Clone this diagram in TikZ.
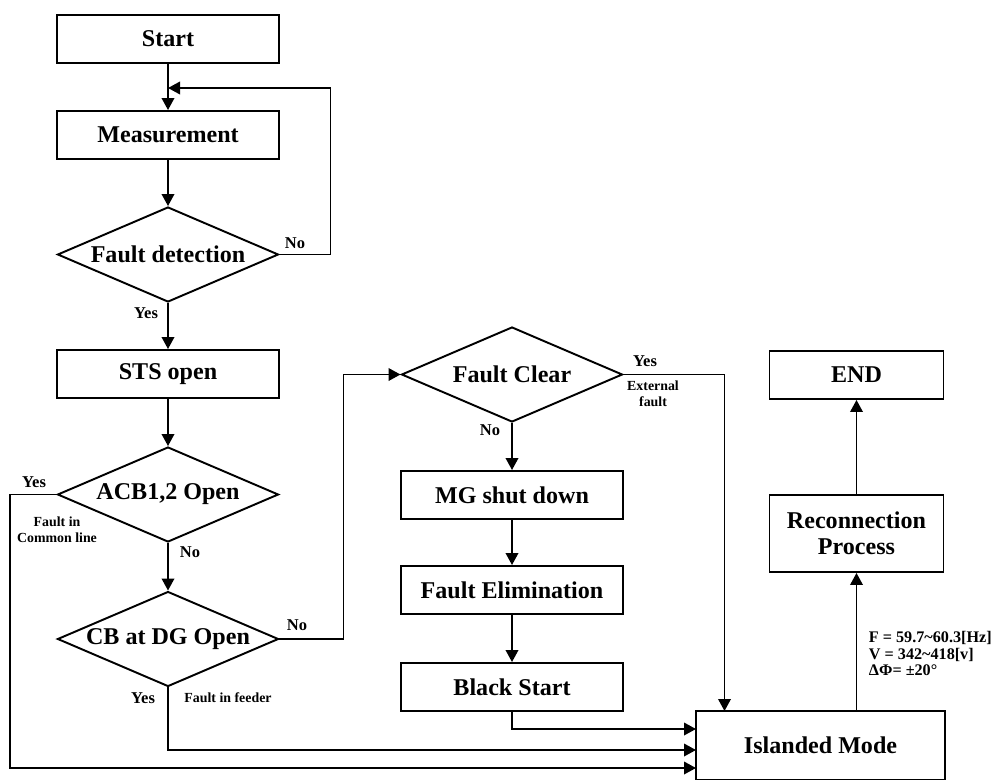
\documentclass[tikz,border=0pt]{standalone}
\usepackage{fontspec}
\setmainfont{Liberation Serif}
\usetikzlibrary{shapes.geometric,arrows.meta}

\begin{document}
\begin{tikzpicture}[line width=1.1pt, >={Triangle[length=0.24cm,width=0.25cm]},
  proc/.style={rectangle, draw, minimum width=4.44cm, minimum height=0.96cm, inner sep=0pt, font=\fontsize{13.7}{15}\selectfont\bfseries},
  decis/.style={diamond, draw, aspect=2.33, minimum width=4.42cm, minimum height=1.9cm, inner sep=0pt, font=\fontsize{13.7}{15}\selectfont\bfseries},
  lbl/.style={inner sep=0pt, font=\fontsize{9.4}{10}\selectfont\bfseries},
  note/.style={inner sep=0pt, align=center, font=\fontsize{7.9}{9.2}\selectfont\bfseries}]
  \useasboundingbox (0,0) rectangle (20.04,-15.58);
  \node [proc] (start) at (3.36cm, -0.78cm) {Start};
  \node [proc] (meas) at (3.36cm, -2.7cm) {Measurement};
  \node [decis] (fdet) at (3.36cm, -5.09cm) {Fault detection};
  \node [proc] (sts) at (3.36cm, -7.48cm) {STS open};
  \node [decis] (acb) at (3.36cm, -9.89cm) {ACB1,2 Open};
  \node [decis] (cbdg) at (3.36cm, -12.78cm) {CB at DG Open};
  \node [decis] (fclr) at (10.24cm, -7.49cm) {Fault Clear};
  \node [proc] (mgsd) at (10.24cm, -9.9cm) {MG shut down};
  \node [proc] (felim) at (10.24cm, -11.8cm) {Fault Elimination};
  \node [proc] (bstart) at (10.24cm, -13.74cm) {Black Start};
  \node [proc, minimum width=4.98cm, minimum height=1.38cm] (island) at (16.41cm, -14.91cm) {Islanded Mode};
  \node [proc, minimum width=3.48cm, minimum height=1.54cm, align=center] (recon) at (17.13cm, -10.67cm) {Reconnection\\Process};
  \node [proc, minimum width=3.48cm] (endb) at (17.13cm, -7.5cm) {END};
  \coordinate (loopin) at (3.36cm, -1.76cm);
  \coordinate (in1) at (13.92cm, -14.58cm);
  \coordinate (in2) at (13.92cm, -15.0cm);
  \coordinate (in3) at (13.92cm, -15.36cm);
  \coordinate (in4) at (14.49cm, -14.22cm);
  \draw [->] (start) -- (meas);
  \draw [->] (meas) -- (fdet);
  \draw [->] (fdet.east) -- ++(1.02cm, 0) |- (loopin);
  \draw [->] (fdet) -- (sts);
  \draw [->] (sts) -- (acb);
  \draw [->] (acb.west) -- ++(-0.94cm, 0) |- (in3);
  \draw [->] (acb) -- (cbdg);
  \draw [->] (cbdg.east) -- ++(1.28cm, 0) |- (fclr.west);
  \draw [->] (cbdg.south) |- (in2);
  \draw [->] (fclr.east) -| (in4);
  \draw [->] (fclr) -- (mgsd);
  \draw [->] (mgsd) -- (felim);
  \draw [->] (felim) -- (bstart);
  \draw [->] (bstart.south) |- (in1);
  \draw [->] (island.north -| recon.south) -- (recon.south);
  \draw [->] (recon) -- (endb);
  \node [lbl] (no1) at (5.9cm, -4.86cm) {No};
  \node [lbl] (yes1) at (2.92cm, -6.26cm) {Yes};
  \node [lbl] (yes2) at (0.68cm, -9.64cm) {Yes};
  \node [note] (fcom) at (1.14cm, -10.6cm) {Fault in\\Common line};
  \node [lbl] (no2) at (3.8cm, -11.04cm) {No};
  \node [lbl] (no3) at (5.94cm, -12.5cm) {No};
  \node [lbl] (yes3) at (2.86cm, -13.96cm) {Yes};
  \node [note] (ffeed) at (4.56cm, -13.96cm) {Fault in feeder};
  \node [lbl] (yes4) at (12.9cm, -7.22cm) {Yes};
  \node [note] (fext) at (13.06cm, -7.88cm) {External\\fault};
  \node [lbl] (no4) at (9.8cm, -8.6cm) {No};
  \node [lbl, align=left, anchor=west, font=\fontsize{9.2}{9.6}\selectfont\bfseries] (cond) at (17.36cm, -13.07cm)
    {F = 59.7\textasciitilde60.3[Hz]\\V = 342\textasciitilde418[v]\\ΔΦ= ±20°};
\end{tikzpicture}
\end{document}
